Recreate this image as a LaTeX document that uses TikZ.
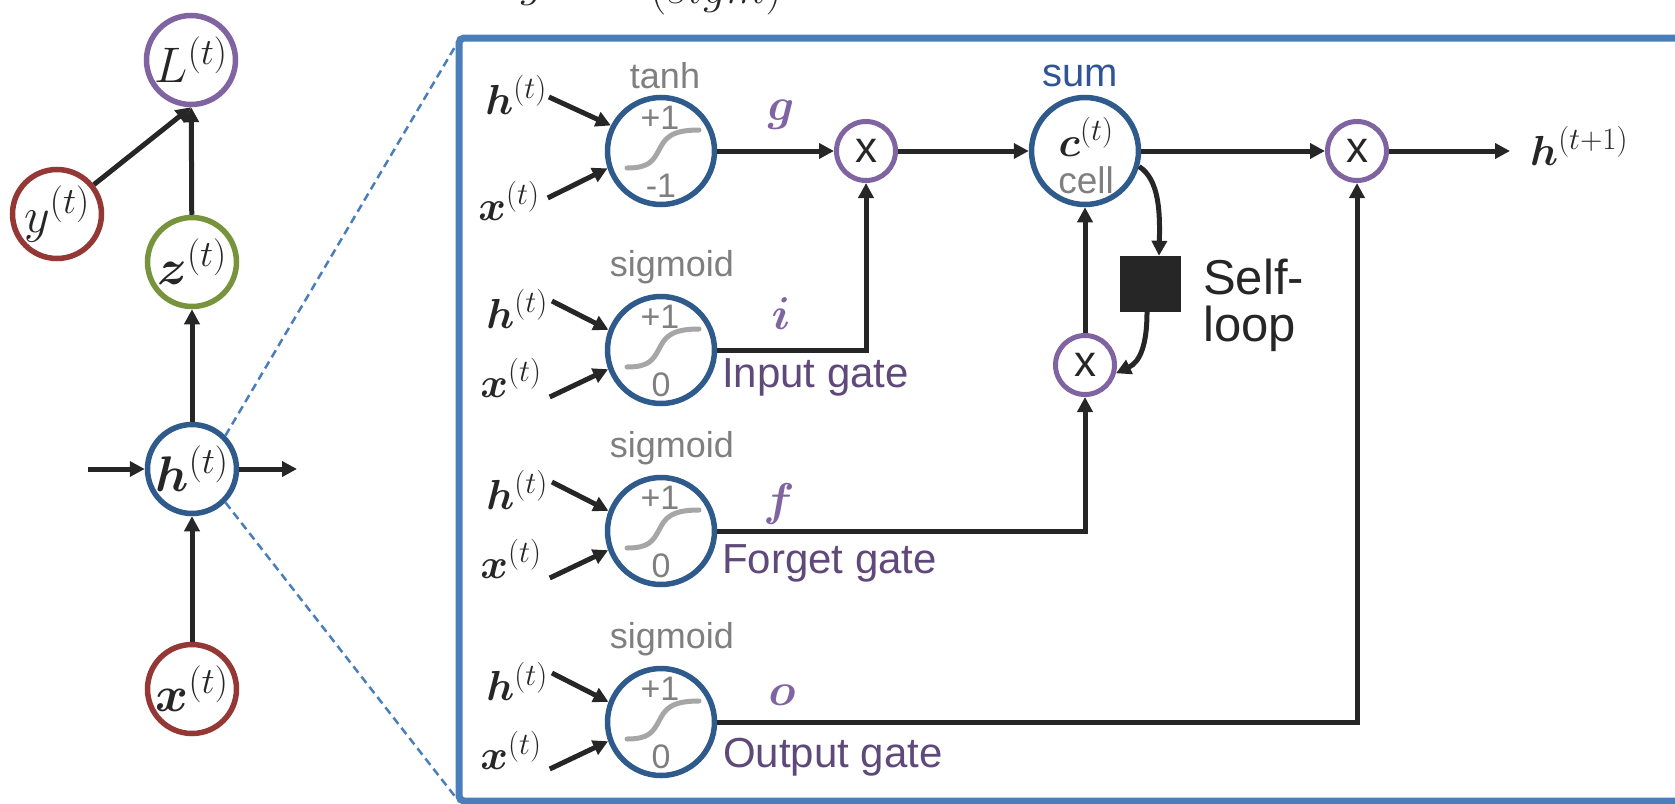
\RequirePackage{fix-cm}
\documentclass[tikz,border=0pt]{standalone}
\usepackage{amsmath}
\usepackage{bm}
\usepackage{fontspec}
\newfontfamily\arial{Liberation Sans}
\usetikzlibrary{arrows.meta,calc}
\DeclareMathSizes{50}{50}{37}{28}
\DeclareMathSizes{46}{46}{34}{26}
\DeclareMathSizes{44}{44}{33}{25}
\DeclareMathSizes{42}{42}{31}{24}
\definecolor{lineblk}{RGB}{38,38,38}
\definecolor{gblue}{RGB}{46,90,140}
\definecolor{boxblue}{RGB}{74,126,187}
\definecolor{mpurple}{RGB}{128,100,162}
\definecolor{dpurple}{RGB}{95,73,122}
\definecolor{nred}{RGB}{149,55,53}
\definecolor{ngreen}{RGB}{119,147,60}
\definecolor{graytxt}{RGB}{127,127,127}
\definecolor{graycrv}{RGB}{166,166,166}
\definecolor{sumblue}{RGB}{47,85,151}
\newcommand\myfs[1]{\fontsize{#1}{#1}\selectfont}
\newcommand\gatein[2]{%
  \begin{scope}[shift={(#1)}]
  \draw[gcurve] (-34,17) .. controls (-12,17) and (-8,10) .. (-2,-1) .. controls (4,-13) and (10,-21) .. (38,-21);
  \node[gnum] at (-1,-33) {+1};
  \node[gnum] at (0,35) {#2};
  \end{scope}}
\begin{document}
\begin{tikzpicture}[x=1pt,y=-1pt,
  arr/.style={draw=lineblk, line width=5pt, -{Triangle[length=15pt,width=15pt]}},
  lnode/.style={circle, line width=5.5pt, minimum size=89pt, inner sep=0pt, fill=white, text=lineblk, font=\myfs{50}},
  gate/.style={circle, draw=gblue, line width=5.5pt, minimum size=107pt, inner sep=0pt, fill=white},
  mult/.style={circle, draw=mpurple, line width=5pt, minimum size=59pt, inner sep=0pt, fill=white, font=\arial\myfs{44}, text=lineblk},
  glab/.style={text=graytxt, font=\arial\myfs{36}, inner sep=0pt},
  gnum/.style={text=graytxt, font=\arial\myfs{34}, inner sep=0pt},
  gcurve/.style={draw=graycrv, line width=5pt, line cap=round},
  inlab/.style={font=\myfs{42}, inner sep=0pt, text=lineblk},
  gname/.style={text=dpurple, font=\arial\myfs{42}, anchor=west, inner sep=0pt},
  gvar/.style={text=mpurple, font=\myfs{46}, inner sep=0pt},
]
\path[use as bounding box] (0,0) rectangle (1675,803);
\begin{scope}
\clip (0,0) rectangle (1675,803);
% cut-off text at the top
\node[anchor=base west, inner sep=0pt, font=\myfs{46}, text=lineblk] (topA) at (520,-4) {$g$};
\node[anchor=base west, inner sep=0pt, font=\myfs{46}, text=lineblk] (topB) at (650,4) {$(sigm)$};
% box
\draw[boxblue, line width=7pt, rounded corners=5pt] (459,38) rectangle (1710,801);
\coordinate (boxTL) at (459,40);
\coordinate (boxBL) at (457,799);
% left graph
\node[lnode, draw=mpurple] (Ll) at (191,60) {$L^{(t)}$};
\node[lnode, draw=nred] (yl) at (57,214) {$y^{(t)}$};
\node[lnode, draw=ngreen] (zl) at (192,262) {$\bm{z}^{(t)}$};
\node[lnode, draw=gblue] (hl) at (192,469) {$\bm{h}^{(t)}$};
\node[lnode, draw=nred] (xl) at (192,689) {$\bm{x}^{(t)}$};
\draw[boxblue, line width=2.5pt, dash pattern=on 8pt off 5pt] (hl.45) -- (boxTL);
\draw[boxblue, line width=2.5pt, dash pattern=on 8pt off 5pt] (hl.-45) -- (boxBL);
\coordinate (hin) at (88,469);
\coordinate (hout) at (297,469);
\draw[arr] (xl) -- (hl);
\draw[arr] (hl) -- (zl);
\draw[arr] (zl) -- (Ll);
\draw[arr] (yl) -- (Ll.south);
\draw[arr] (hin) -- (hl);
\draw[arr] (hl) -- (hout);
% gates
\node[gate] (gT) at (661,151) {};
\node[gate] (gI) at (661,350) {};
\node[gate] (gF) at (661,531) {};
\node[gate] (gO) at (661,722) {};
\gatein{gT}{-1}
\gatein{gI}{0}
\gatein{gF}{0}
\gatein{gO}{0}
\node[glab] (lT) at (665,76) {tanh};
\node[glab] (lI) at (672,267) {sigmoid};
\node[glab] (lF) at (672,448) {sigmoid};
\node[glab] (lO) at (672,639) {sigmoid};
% gate inputs
\node[inlab] (hT) at (516,95) {$\bm{h}^{(t)}$};
\node[inlab] (xT) at (509,201) {$\bm{x}^{(t)}$};
\draw[arr] ([shift={(2,2)}]hT.east) -- (gT.153);
\draw[arr] ([shift={(8,-3)}]xT.east) -- (gT.198);
\foreach \g/\G in {I/350,F/531,O/722}{
  \node[inlab] (h\g) at (517,\G-41) {$\bm{h}^{(t)}$};
  \node[inlab] (x\g) at (511,\G+28) {$\bm{x}^{(t)}$};
  \draw[arr] ([shift={(4,-8)}]h\g.east) -- (g\g.159);
  \draw[arr] ([shift={(8,19)}]x\g.east) -- (g\g.200);
}
% gate variable letters and names
\node[gvar] (vg) at (781,115) {$\bm{g}$};
\node[gvar] (vi) at (781,314) {$\bm{i}$};
\node[gvar] (vf) at (779,504) {$\bm{f}$};
\node[gvar] (vo) at (782,695) {$\bm{o}$};
\node[gname] (nI) at (722,377) {Input gate};
\node[gname] (nF) at (722,563) {Forget gate};
\node[gname] (nO) at (723,757) {Output gate};
% multipliers and cell
\node[mult] (m1) at (866,151) {x};
\node[gate] (cell) at (1085,151) {};
\node[inlab] (cl) at (1086,137) {$\bm{c}^{(t)}$};
\node[text=graytxt, font=\arial\myfs{37}, inner sep=0pt] (celllab) at (1086,180) {cell};
\node[text=sumblue, font=\arial\myfs{40}, inner sep=0pt] (sumlab) at (1080,76) {sum};
\node[mult] (m2) at (1085,365) {x};
\node[mult] (m3) at (1357,151) {x};
\node[fill=lineblk, minimum width=61pt, minimum height=56pt, inner sep=0pt] (sq) at (1150,284) {};
\node[anchor=west, align=left, text=lineblk, font=\arial\myfs{49}, inner sep=0pt] (selfl) at (1203,305) {Self-\\[-2pt]loop};
\node[inlab, anchor=west] (hnext) at (1530,146) {$\bm{h}^{(t+1)}$};
\coordinate (hnextin) at (1510,151);
% connectors
\draw[arr] (gT) -- (m1);
\draw[arr] (gI.east) -| (m1.south);
\draw[arr] (m1) -- (cell);
\draw[arr] (cell) -- (m3);
\draw[arr] (m3) -- (hnextin);
\draw[arr] (gF.east) -| (m2.south);
\draw[arr] (m2) -- (cell);
\draw[arr] (gO.east) -| (m3.south);
\draw[arr] (cell.-16) .. controls (1160,180) and (1160,215) .. ([xshift=9pt]sq.north);
\draw[arr] ([xshift=-3pt]sq.south) .. controls (1147,345) and (1140,362) .. (m2.-15);
\end{scope}
\end{tikzpicture}
\end{document}
